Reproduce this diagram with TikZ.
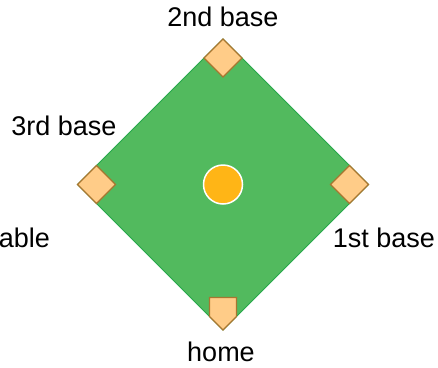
\documentclass[tikz,border=0pt]{standalone}
\usepackage{fontspec}
\setmainfont{Liberation Sans}
\usepackage{tikz}
\usetikzlibrary{positioning}

\definecolor{fieldgreen}{RGB}{82,186,94}
\definecolor{fieldedge}{RGB}{38,168,74}
\definecolor{basefill}{RGB}{255,204,136}
\definecolor{baseedge}{RGB}{168,118,48}
\definecolor{moundfill}{RGB}{255,181,22}

\begin{document}
\begin{tikzpicture}[
    x=1pt, y=-1pt,
    fieldstyle/.style={fill=fieldgreen, draw=fieldedge, line width=1pt, line join=miter},
    basestyle/.style={fill=basefill, draw=baseedge, line width=1.2pt, line join=miter},
    moundstyle/.style={circle, fill=moundfill, draw=white, line width=1.5pt,
        minimum size=39pt, inner sep=0pt},
    labelstyle/.style={font=\fontsize{27}{31}\selectfont, inner sep=0pt, anchor=base}
]
\useasboundingbox (0,0) rectangle (438,367);

% field
\draw[fieldstyle] (223,39) -- (368.5,184.5) -- (223,330) -- (77.5,184.5) -- cycle;

% bases
\draw[basestyle] (223,39) -- ++(19,19) -- ++(-19,19) -- ++(-19,-19) -- cycle;
\draw[basestyle] (77.5,184.5) -- ++(19,-19) -- ++(19,19) -- ++(-19,19) -- cycle;
\draw[basestyle] (368.5,184.5) -- ++(-19,-19) -- ++(-19,19) -- ++(19,19) -- cycle;
\draw[basestyle] (223,330) -- ++(-13.5,-13.5) -- ++(0,-19) -- ++(27,0) -- ++(0,19) -- cycle;

% pitcher's mound
\node[moundstyle] (mound) at (223,184.5) {};

% labels
\node[labelstyle] (second) at (223,26) {2nd base};
\node[labelstyle] (third) at (64,135) {3rd base};
\node[labelstyle] (first) at (384,247) {1st base};
\node[labelstyle] (home) at (221,361) {home};
\node[labelstyle, anchor=base east] (cut) at (50,247) {able};

\end{tikzpicture}
\end{document}
